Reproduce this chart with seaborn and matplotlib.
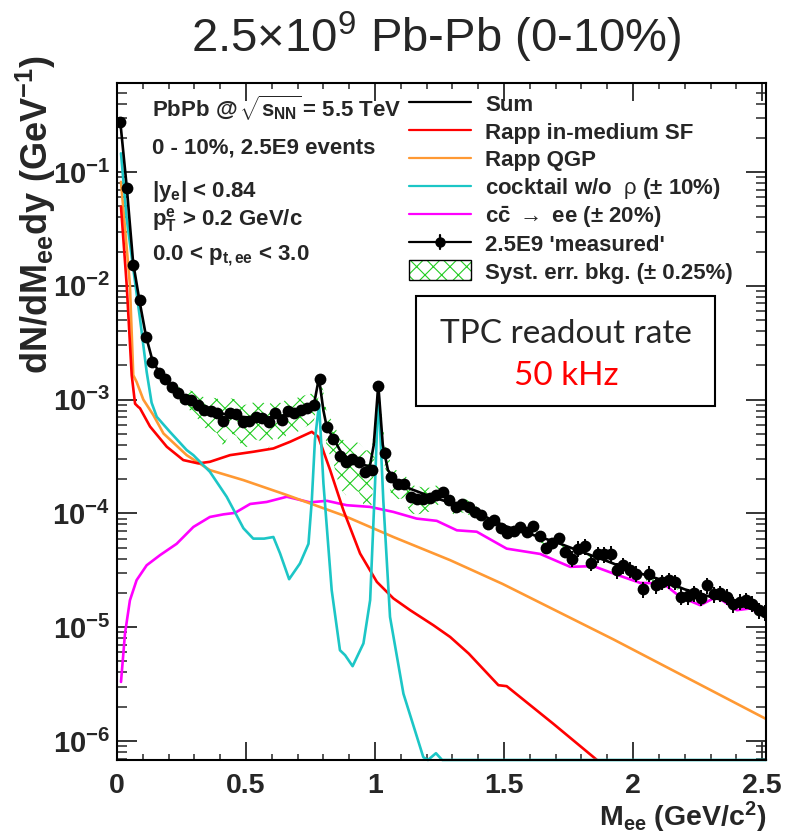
import numpy as np
import pandas as pd
import matplotlib
matplotlib.use("Agg")
import matplotlib.pyplot as plt
import seaborn as sns
from matplotlib.lines import Line2D
from matplotlib.patches import Rectangle
from matplotlib.ticker import MultipleLocator, LogLocator, FuncFormatter, NullFormatter

# ---------------- data ----------------
# invariant-mass bin centres of the pseudo-measurement (GeV/c^2)
mass_bins = np.arange(0.0125, 2.52, 0.025)

measured = [
    0.277, 0.072, 0.0152, 7.5e-3, 3.52e-3, 2.15e-3, 1.72e-3, 1.52e-3, 1.29e-3, 1.15e-3,
    1.01e-3, 1.0e-3, 9.0e-4, 8.07e-4, 7.9e-4, 7.7e-4, 6.5e-4, 7.7e-4, 7.4e-4, 6.37e-4,
    6.5e-4, 7.06e-4, 6.9e-4, 6.37e-4, 7.55e-4, 6.6e-4, 7.9e-4, 7.55e-4, 8.07e-4, 8.47e-4,
    8.9e-4, 1.51e-3, 5.77e-4, 4.55e-4, 3.18e-4, 2.84e-4, 3.0e-4, 2.84e-4, 2.32e-4, 2.4e-4,
    1.31e-3, 3.4e-4, 2.07e-4, 1.83e-4, 1.81e-4, 1.4e-4, 1.35e-4, 1.35e-4, 1.36e-4, 1.46e-4,
    1.55e-4, 1.32e-4, 1.13e-4, 1.2e-4, 1.13e-4, 1.03e-4, 9.6e-5, 8.1e-5, 8.7e-5, 7.5e-5,
    6.74e-5, 7.0e-5, 7.6e-5, 6.9e-5, 7.7e-5, 6.3e-5, 4.98e-5, 5.5e-5, 6.1e-5, 4.59e-5,
    4.0e-5, 4.9e-5, 5.15e-5, 3.7e-5, 4.37e-5, 4.37e-5, 4.44e-5, 3.17e-5, 3.5e-5, 3.21e-5,
    2.96e-5, 2.16e-5, 2.96e-5, 2.34e-5, 2.5e-5, 2.59e-5, 2.5e-5, 1.85e-5, 1.87e-5, 2.0e-5,
    1.82e-5, 2.34e-5, 1.95e-5, 2.0e-5, 1.85e-5, 1.59e-5, 1.67e-5, 1.73e-5, 1.61e-5, 1.41e-5,
    1.36e-5,
]

# relative statistical uncertainty of the pseudo-data (low / intermediate / high mass)
stat_err_rel = np.concatenate([np.full(40, 0.03), np.full(30, 0.08), np.full(31, 0.16)])

# absolute systematic uncertainty from background subtraction (+-0.25%)
syst_abs = [
    0, 0, 0, 0, 0, 0, 5e-5, 8e-5, 1.2e-4, 1.5e-4,
    1.8e-4, 2.0e-4, 2.2e-4, 2.4e-4, 2.5e-4, 2.6e-4, 2.6e-4, 2.6e-4, 2.6e-4, 2.6e-4,
    2.6e-4, 2.6e-4, 2.6e-4, 2.6e-4, 2.6e-4, 2.6e-4, 2.6e-4, 2.6e-4, 2.6e-4, 2.6e-4,
    2.5e-4, 2.3e-4, 2.0e-4, 1.7e-4, 1.5e-4, 1.4e-4, 1.35e-4, 1.3e-4, 1.25e-4, 1.2e-4,
    1.1e-4, 8e-5, 6e-5, 5e-5, 4.5e-5, 4e-5, 3.7e-5, 3.5e-5, 3.2e-5, 3e-5,
    2.7e-5, 2.4e-5, 2.0e-5, 1.8e-5, 1.6e-5, 1.4e-5, 1.2e-5, 1.0e-5, 9e-6, 8e-6,
    7e-6, 6e-6, 5.5e-6, 5e-6, 4.5e-6, 4e-6, 3.6e-6, 3.3e-6, 3e-6, 2.8e-6,
    2.6e-6, 2.4e-6, 2.2e-6, 2e-6, 1.9e-6, 1.8e-6, 1.7e-6, 1.6e-6, 1.5e-6, 1.4e-6,
    1.3e-6, 1.2e-6, 1.15e-6, 1.1e-6, 1.05e-6, 1.0e-6, 9.5e-7, 9e-7, 8.8e-7, 8.5e-7,
    8.2e-7, 8e-7, 7.7e-7, 7.4e-7, 7.1e-7, 6.8e-7, 6.5e-7, 6.2e-7, 6e-7, 5.8e-7,
    5.5e-7,
]

# Sum of all sources
sum_mass = [0.0125, 0.0375, 0.0625, 0.0875, 0.1125, 0.1375, 0.1625, 0.1875, 0.2125, 0.25,
            0.30, 0.35, 0.40, 0.45, 0.50, 0.55, 0.60, 0.65, 0.70, 0.74,
            0.765, 0.7825, 0.80, 0.8125, 0.84, 0.87, 0.90, 0.94, 0.98, 0.995,
            1.0125, 1.03, 1.05, 1.08, 1.12, 1.2, 1.3, 1.4, 1.5, 1.6,
            1.7, 1.8, 1.9, 2.0, 2.1, 2.2, 2.3, 2.4, 2.5]
sum_val = [0.28, 0.075, 0.016, 7.3e-3, 3.6e-3, 2.2e-3, 1.75e-3, 1.5e-3, 1.3e-3, 1.1e-3,
           9.5e-4, 8.3e-4, 7.6e-4, 7.2e-4, 7.0e-4, 6.9e-4, 7.0e-4, 7.3e-4, 7.8e-4, 8.4e-4,
           9.5e-4, 1.55e-3, 8.0e-4, 5.8e-4, 4.5e-4, 3.4e-4, 3.0e-4, 2.7e-4, 2.6e-4, 4.0e-4,
           1.35e-3, 4.0e-4, 2.4e-4, 1.95e-4, 1.7e-4, 1.45e-4, 1.22e-4, 1.0e-4, 7.8e-5, 6.6e-5,
           5.6e-5, 4.6e-5, 3.8e-5, 3.1e-5, 2.65e-5, 2.15e-5, 1.85e-5, 1.6e-5, 1.35e-5]

# Rapp in-medium spectral function
sf_mass = [0.0155, 0.0375, 0.057, 0.070, 0.083, 0.089, 0.128, 0.193, 0.257, 0.315,
           0.360, 0.438, 0.528, 0.606, 0.671, 0.755, 0.780, 0.826, 0.877, 0.942,
           1.007, 1.071, 1.136, 1.226, 1.291, 1.363, 1.478, 1.51, 1.690, 1.86, 1.95]
sf_val = [0.0496, 0.0102, 1.64e-3, 9.2e-4, 8.6e-4, 8.4e-4, 5.8e-4, 3.85e-4, 2.94e-4, 2.75e-4,
          2.84e-4, 3.25e-4, 3.48e-4, 3.72e-4, 4.26e-4, 5.21e-4, 4.71e-4, 2.4e-4, 1.07e-4, 4.44e-5,
          2.5e-5, 1.79e-5, 1.41e-5, 1.04e-5, 8.2e-6, 5.86e-6, 3.09e-6, 3.03e-6, 1.42e-6, 6.8e-7, 4e-7]

# Rapp QGP radiation
qgp_mass = [0.0155, 0.05, 0.063, 0.076, 0.102, 0.141, 0.180, 0.270, 0.360, 0.490,
            0.658, 0.877, 1.071, 1.291, 1.494, 1.924, 2.52]
qgp_val = [0.082, 0.0102, 1.64e-3, 1.43e-3, 1.0e-3, 7.3e-4, 5.04e-4, 3.25e-4, 2.4e-4, 1.96e-4,
           1.45e-4, 9.6e-5, 6.2e-5, 3.88e-5, 2.4e-5, 7.8e-6, 1.54e-6]

# hadronic cocktail without rho
cocktail_mass = [0.0155, 0.0375, 0.063, 0.089, 0.115, 0.134, 0.154, 0.205, 0.270, 0.296,
                 0.360, 0.425, 0.490, 0.528, 0.570, 0.606, 0.632, 0.667, 0.709, 0.742,
                 0.755, 0.767, 0.783, 0.800, 0.832, 0.864, 0.884, 0.913, 0.955, 0.981,
                 1.0, 1.013, 1.032, 1.058, 1.110, 1.187, 1.205, 1.236, 1.26, 2.515]
cocktail_val = [0.146, 0.039, 0.0142, 5.17e-3, 1.75e-3, 9.4e-4, 7.06e-4, 5.21e-4, 3.6e-4, 3.25e-4,
                2.32e-4, 1.4e-4, 7.4e-5, 6.0e-5, 6.0e-5, 6.2e-5, 4.44e-5, 2.64e-5, 3.63e-5, 5.4e-5,
                1.31e-4, 4.4e-4, 9.2e-4, 1.83e-4, 2.11e-5, 6.27e-6, 5.67e-6, 4.54e-6, 7.2e-6, 1.73e-5,
                1.83e-4, 1.2e-3, 1.3e-4, 1.23e-5, 2.6e-6, 7.2e-7, 6.8e-7, 7.8e-7, 6.8e-7, 6.8e-7]

# open charm
charm_mass = [0.0155, 0.031, 0.050, 0.076, 0.115, 0.167, 0.231, 0.296, 0.360, 0.412,
              0.457, 0.516, 0.580, 0.658, 0.748, 0.813, 0.890, 0.981, 1.071, 1.161,
              1.239, 1.317, 1.394, 1.510, 1.640, 1.756, 1.846, 1.924, 2.027, 2.117,
              2.182, 2.260, 2.324, 2.402, 2.453, 2.518]
charm_val = [3.3e-6, 8.8e-6, 1.72e-5, 2.59e-5, 3.5e-5, 4.3e-5, 5.4e-5, 7.6e-5, 9.3e-5, 9.8e-5,
             1.01e-4, 1.21e-4, 1.26e-4, 1.40e-4, 1.25e-4, 1.29e-4, 1.18e-4, 1.14e-4, 1.03e-4, 9.0e-5,
             8.6e-5, 7.1e-5, 6.9e-5, 4.9e-5, 4.4e-5, 3.39e-5, 3.44e-5, 2.96e-5, 2.45e-5, 2.42e-5,
             1.85e-5, 1.56e-5, 1.85e-5, 1.41e-5, 1.46e-5, 1.25e-5]

# ---------------- style ----------------
sns.set_theme(style="ticks")
plt.rcParams["font.family"] = ["Liberation Sans", "DejaVu Sans"]
plt.rcParams["mathtext.fontset"] = "custom"
plt.rcParams["mathtext.rm"] = "Liberation Sans"
plt.rcParams["mathtext.bf"] = "Liberation Sans:bold"
plt.rcParams["mathtext.it"] = "Liberation Sans:italic"
plt.rcParams["mathtext.default"] = "rm"
plt.rcParams["hatch.linewidth"] = 0.8

RED = "#ff0000"
ORANGE = "#ff9933"
CYAN = "#1cc6c6"
MAGENTA = "#ff00ff"
GREEN = "#22cc22"
LW = 1.9

W, H = 789, 838
fig = plt.figure(figsize=(W / 100, H / 100), dpi=100)
ax_left, ax_right, ax_top, ax_bottom = 117, 766, 83.5, 760
ax = fig.add_axes([ax_left / W, (H - ax_bottom) / H,
                   (ax_right - ax_left) / W, (ax_bottom - ax_top) / H])

YMIN, YMAX = 6.8e-7, 0.6

# model curves
sns.lineplot(x=charm_mass, y=charm_val, ax=ax, color=MAGENTA, lw=LW, estimator=None, sort=False)
sns.lineplot(x=qgp_mass, y=qgp_val, ax=ax, color=ORANGE, lw=LW, estimator=None, sort=False)
sns.lineplot(x=sf_mass, y=sf_val, ax=ax, color=RED, lw=LW, estimator=None, sort=False)
sns.lineplot(x=cocktail_mass, y=np.clip(cocktail_val, YMIN, None), ax=ax, color=CYAN, lw=LW,
             estimator=None, sort=False, clip_on=False)

# systematic band
meas = np.array(measured)
syst = np.array(syst_abs)
band = syst > 0
ax.fill_between(mass_bins[band], (meas - syst)[band], (meas + syst)[band],
                facecolor="none", edgecolor=GREEN, hatch="xx", linewidth=0, zorder=3)

# sum
sns.lineplot(x=sum_mass, y=sum_val, ax=ax, color="black", lw=LW, estimator=None, sort=False,
             zorder=4)

# pseudo-data
ax.errorbar(mass_bins, meas, yerr=meas * stat_err_rel, fmt="none", ecolor="black",
            elinewidth=1.4, capsize=0, zorder=5)
sns.scatterplot(x=mass_bins, y=meas, ax=ax, color="black", s=72, edgecolor="black",
                linewidth=0, zorder=6)

ax.set_yscale("log")
ax.set_xlim(0, 2.515)
ax.set_ylim(YMIN, YMAX)
ax.set_xlabel(None)
ax.set_ylabel(None)
ax.xaxis.label.set_visible(False)
ax.yaxis.label.set_visible(False)
ax.xaxis.offsetText.set_visible(False)
ax.yaxis.offsetText.set_visible(False)

# axes frame and ticks
for sp in ax.spines.values():
    sp.set_linewidth(1.5)
    sp.set_color("black")
    sp.set_visible(True)
ax.xaxis.set_major_locator(MultipleLocator(0.5))
ax.xaxis.set_minor_locator(MultipleLocator(0.1))
ax.yaxis.set_major_locator(LogLocator(base=10, numticks=20))
ax.yaxis.set_minor_locator(LogLocator(base=10, subs=np.arange(2, 10), numticks=20))
ax.yaxis.set_minor_formatter(NullFormatter())
ax.xaxis.set_major_formatter(FuncFormatter(lambda v, p: f"{v:g}"))
ax.yaxis.set_major_formatter(FuncFormatter(
    lambda v, p: r"$\mathbf{10}^{\mathbf{%d}}$" % round(np.log10(v))))
ax.tick_params(axis="x", which="major", direction="in", length=13, width=1.3,
               top=True, bottom=True, pad=9, labelsize=20.5)
ax.tick_params(axis="x", which="minor", direction="in", length=4.5, width=1.1,
               top=True, bottom=True)
ax.tick_params(axis="y", which="major", direction="in", length=14.4, width=1.3,
               left=True, right=True, pad=5, labelsize=21)
ax.tick_params(axis="y", which="minor", direction="in", length=7.5, width=1.1,
               left=True, right=True)
for lab in ax.get_xticklabels():
    lab.set_fontweight("bold")

# axis titles
fig.text(ax_right / W, 1 - 826 / H, r"M$_\mathbf{ee}$ (GeV/c$^\mathbf{2}$)",
         ha="right", va="baseline", fontsize=20.5, fontweight="bold")
fig.text(14 / W, 1 - 55 / H, r"dN/dM$_\mathbf{ee}$dy (GeV$^\mathbf{-1}$)",
         rotation=90, ha="left", va="top", fontsize=26, fontweight="bold")

# title
fig.text(436 / W, 1 - 52 / H, r"2.5×10$^{9}$ Pb-Pb (0-10%)", ha="center", va="baseline",
         fontsize=34)


def px(x, y):
    return (x - ax_left) / (ax_right - ax_left), (ax_bottom - y) / (ax_bottom - ax_top)


# collision-system / cuts annotation
info_lines = [
    (116.7, "PbPb @" + r"$\,\sqrt{\mathbf{s_{NN}}}\,$" + "= 5.5 TeV"),
    (153.3, "0 - 10%, 2.5E9 events"),
    (196.7, "|y" + r"$_\mathbf{e}$" + "| < 0.84"),
    (225.0, r"$\mathbf{p_{T}^{e}}$" + " > 0.2 GeV/c"),
    (260.0, "0.0 < " + r"$\mathbf{p_{t,ee}}$" + " < 3.0"),
]
for yb, txt in info_lines:
    ax.text(*px(151.7, yb), txt, transform=ax.transAxes, ha="left", va="baseline",
            fontsize=16, fontweight="bold")

# legend
leg_rows = [
    (102.3, "line", "black", "Sum"),
    (130.0, "line", RED, "Rapp in-medium SF"),
    (157.7, "line", ORANGE, "Rapp QGP"),
    (185.7, "line", CYAN, "cocktail w/o  " + r"$\mathrm{\rho}$" + " (± 10%)"),
    (214.3, "line", MAGENTA, "c" + r"$\mathbf{\bar{c}}$" + " " + r"$\mathrm{\rightarrow}$" + " ee (± 20%)"),
    (242.3, "data", "black", "2.5E9 'measured'"),
    (270.0, "box", GREEN, "Syst. err. bkg. (± 0.25%)"),
]
hx0, hx1, tx = 409, 471, 485
for yc, kind, col, txt in leg_rows:
    if kind in ("line", "data"):
        ax.add_line(Line2D([px(hx0, yc)[0], px(hx1, yc)[0]], [px(hx0, yc)[1]] * 2,
                           transform=ax.transAxes, color=col, lw=1.6))
    if kind == "data":
        ax.add_line(Line2D([px(440, yc)[0]] * 2, [px(440, yc - 7)[1], px(440, yc + 7)[1]],
                           transform=ax.transAxes, color=col, lw=1.6))
        ax.add_line(Line2D([px(440, yc)[0]], [px(440, yc)[1]], transform=ax.transAxes,
                           marker="o", ms=6.5, color=col, lw=0))
    if kind == "box":
        x0, y0 = px(409, yc + 10)
        x1, y1 = px(471, yc - 10)
        ax.add_patch(Rectangle((x0, y0), x1 - x0, y1 - y0, transform=ax.transAxes,
                               facecolor="none", edgecolor=GREEN, hatch="xx", lw=0))
        ax.add_patch(Rectangle((x0, y0), x1 - x0, y1 - y0, transform=ax.transAxes,
                               facecolor="none", edgecolor="black", lw=1.0))
    ax.text(*px(tx, yc + 8.7), txt, transform=ax.transAxes, ha="left", va="baseline",
            fontsize=16, fontweight="bold")

# readout-rate box
bx0, by0 = px(416, 406)
bx1, by1 = px(715, 296)
ax.add_patch(Rectangle((bx0, by0), bx1 - bx0, by1 - by0, transform=ax.transAxes,
                       facecolor="white", edgecolor="black", lw=1.5, zorder=7))
ax.text(*px(566, 342.7), "TPC readout rate", transform=ax.transAxes, ha="center",
        va="baseline", fontsize=24, family=["Lato", "DejaVu Sans"], zorder=8)
ax.text(*px(566, 385), "50 kHz", transform=ax.transAxes, ha="center", va="baseline",
        fontsize=24, color=RED, family=["Lato", "DejaVu Sans"], zorder=8)

fig.savefig("out.png", dpi=100)
